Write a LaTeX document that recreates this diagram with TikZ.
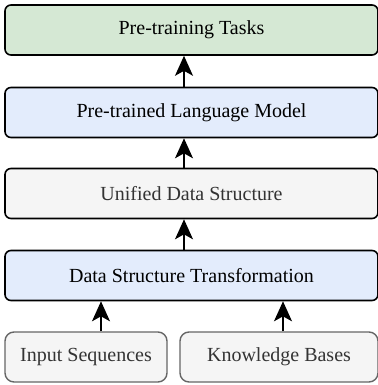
\documentclass[tikz,border=0pt]{standalone}
\usepackage{fontspec}
\setmainfont{Liberation Serif}
\usetikzlibrary{arrows.meta}
\definecolor{greenfill}{HTML}{D5E8D4}
\definecolor{bluefill}{HTML}{E3ECFC}
\definecolor{grayfill}{HTML}{F5F5F5}
\definecolor{graystroke}{HTML}{666666}
\definecolor{graytext}{HTML}{333333}
\tikzset{
  box/.style={draw=black, line width=1.6pt, rounded corners=6pt, minimum width=373pt, minimum height=50pt, inner sep=0pt, font=\fontsize{20}{24}\selectfont},
  greenbox/.style={box, fill=greenfill},
  bluebox/.style={box, fill=bluefill},
  graybox/.style={box, fill=grayfill, text=graytext},
  inbox/.style={draw=graystroke, line width=1.4pt, fill=grayfill, text=graytext, rounded corners=9pt, minimum height=50pt, inner sep=0pt, font=\fontsize{20}{24}\selectfont},
  arr/.style={line width=1.6pt, -{Stealth[length=20pt,width=18pt,inset=5pt]}}
}
\begin{document}
\begin{tikzpicture}[x=1pt,y=-1pt]
\useasboundingbox (0,0) rectangle (377,385);
\node[greenbox] (tasks) at (191.5,30) {Pre-training Tasks};
\node[bluebox] (plm) at (191.5,112.5) {Pre-trained Language Model};
\node[graybox] (uds) at (191.5,193.5) {Unified Data Structure};
\node[bluebox] (dst) at (191.5,275.5) {Data Structure Transformation};
\node[inbox, minimum width=162pt] (inseq) at (86,357) {Input Sequences};
\node[inbox, minimum width=198pt] (kb) at (279,357) {Knowledge Bases};
\coordinate (ax) at (184,0);
\coordinate (bl) at (101,0);
\coordinate (br) at (283,0);
\draw[arr] (ax |- plm.north) -- (ax |- tasks.south);
\draw[arr] (ax |- uds.north) -- (ax |- plm.south);
\draw[arr] (ax |- dst.north) -- (ax |- uds.south);
\draw[arr] (bl |- inseq.north) -- (bl |- dst.south);
\draw[arr] (br |- kb.north) -- (br |- dst.south);
\end{tikzpicture}
\end{document}
